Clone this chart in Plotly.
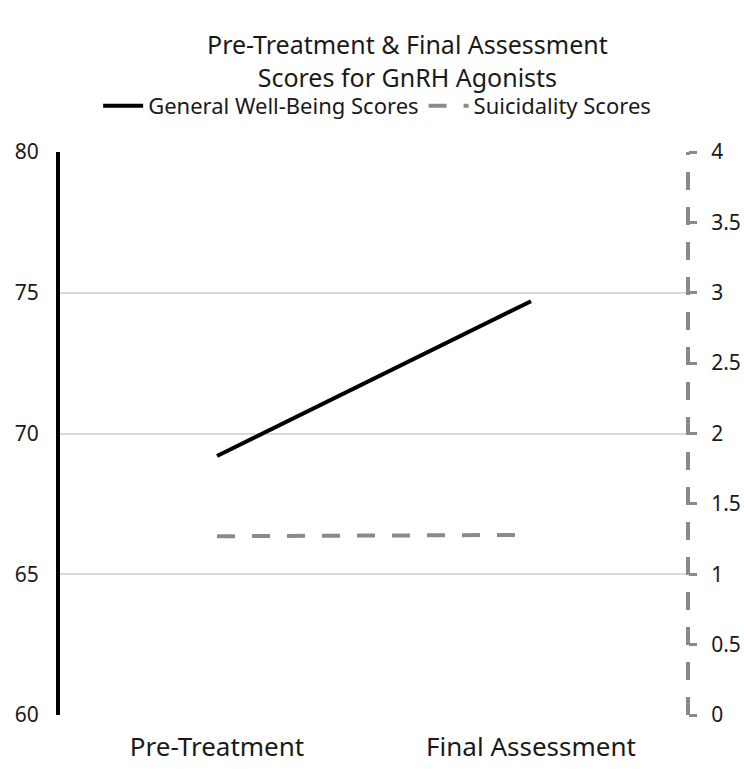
import plotly.graph_objects as go

categories = ["Pre-Treatment", "Final Assessment"]
well_being = [69.2, 74.7]
suicidality = [1.27, 1.28]
left_ticks = [60, 65, 70, 75, 80]
right_ticks = [0, 0.5, 1, 1.5, 2, 2.5, 3, 3.5, 4]

FONT = "Noto Sans"
TXT = "#1a1a1a"

fig = go.Figure()
fig.add_trace(go.Scatter(
    x=categories, y=well_being, mode="lines", name="General Well-Being Scores",
    line=dict(color="black", width=4), yaxis="y"))
fig.add_trace(go.Scatter(
    x=categories, y=suicidality, mode="lines", name="Suicidality Scores",
    line=dict(color="#8a8a8a", width=4, dash="18px,17px"), yaxis="y2"))

fig.update_layout(
    width=744, height=769,
    paper_bgcolor="white", plot_bgcolor="white",
    margin=dict(l=60, r=56, t=152, b=54, autoexpand=False),
    font=dict(family=FONT, color=TXT),
    showlegend=True,
    legend=dict(orientation="h", x=0.505, xanchor="center", y=1.082, yanchor="middle",
                font=dict(size=22, family=FONT, color=TXT),
                itemwidth=40, tracegroupgap=0),
    xaxis=dict(range=[-0.5, 1.5], showgrid=False, showline=False, zeroline=False,
               ticks="", ticklabelstandoff=14, automargin=False,
               tickfont=dict(size=26, family=FONT, color=TXT)),
    yaxis=dict(range=[60, 80], tickvals=left_ticks, showgrid=True, gridcolor="#d9d9d9",
               gridwidth=1.5, zeroline=False, showline=True, linecolor="black", linewidth=4,
               ticks="", ticklabelstandoff=13, automargin=False,
               tickfont=dict(size=21, family=FONT, color=TXT)),
    yaxis2=dict(range=[0, 4], tickvals=right_ticks, overlaying="y", side="right",
                showgrid=False, zeroline=False, showline=False, automargin=False,
                ticks="outside", ticklen=8, tickwidth=3, tickcolor="#8a8a8a",
                ticklabelstandoff=10,
                tickfont=dict(size=21, family=FONT, color=TXT)),
    shapes=[dict(type="line", xref="paper", yref="paper", x0=1, x1=1, y0=0, y1=1,
                 line=dict(color="#8a8a8a", width=4, dash="18px,17px"))],
    annotations=[dict(text="Pre-Treatment & Final Assessment<br>Scores for GnRH Agonists",
                      xref="paper", yref="paper", x=0.554, y=1.162,
                      xanchor="center", yanchor="middle", showarrow=False,
                      font=dict(size=25, family=FONT, color=TXT))],
)

fig.write_html("out.html", config={"displayModeBar": False},
               post_script="document.body.style.margin='0';document.body.style.overflow='hidden';")
